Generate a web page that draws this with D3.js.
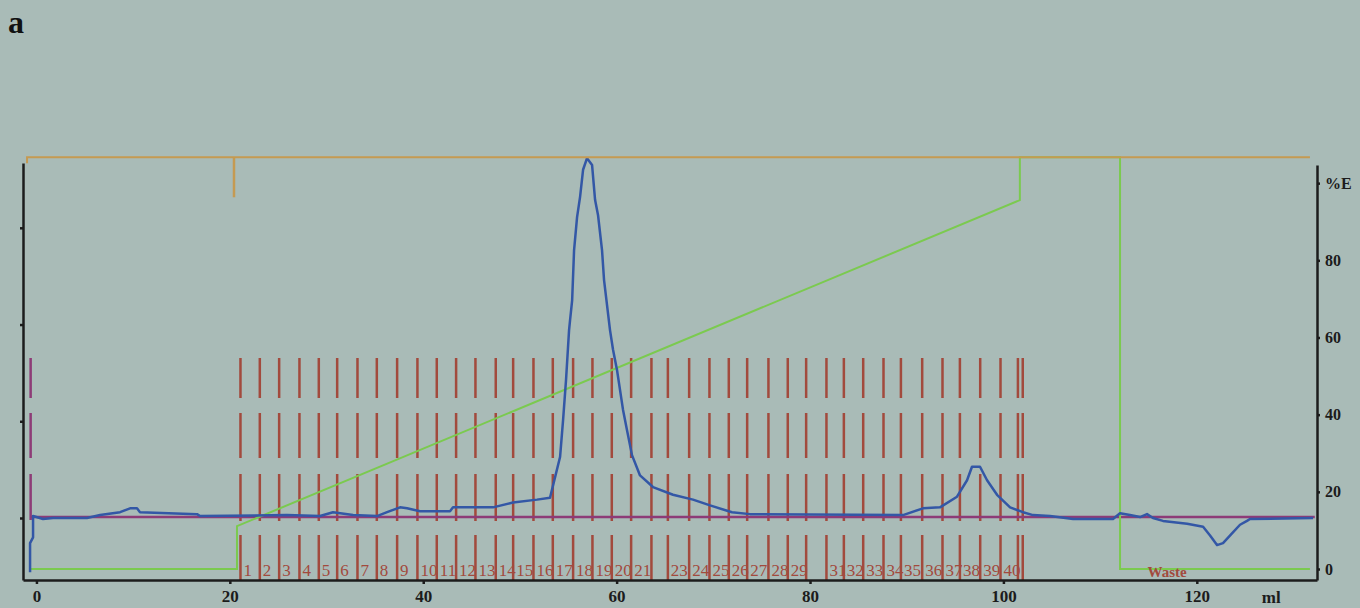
<!DOCTYPE html>
<html>
<head>
<meta charset="utf-8">
<script src="https://cdn.jsdelivr.net/npm/d3@7"></script>
<style>
  body { margin: 0; background: #a9bbb7; }
  svg { display: block; }
  .axis path, .axis line { stroke: #1c1c1c; stroke-width: 2.5; }
  .axis text { fill: #1c1c1c; font-family: "Liberation Serif", serif; font-weight: bold; }
</style>
</head>
<body>
<svg id="chrom" width="1360" height="608"></svg>
<script>
//Elution volume (ml) and UV absorbance
var uvMl = [-0.66, -0.66, -0.35, -0.35, 0.68, 1.72, 5.23, 6.58, 8.65, 9.68, 10.4, 10.71, 16.61, 16.92,
  25.91, 29.33, 30.67, 32.74, 35.22, 36.26, 37.6, 38.33, 39.67, 42.77, 43.08, 47.22, 49.29, 51.77,
  53.11, 53.63, 54.15, 54.46, 54.77, 55.08, 55.19, 55.4, 55.6, 55.91, 56.22, 56.53, 56.94, 57.46,
  57.77, 58.08, 58.49, 58.7, 59.32, 59.63, 60.04, 60.66, 61.07, 61.59, 62.42, 63.76, 65.83, 67.9,
  69.66, 71.93, 73.79, 89.62, 91.68, 93.44, 95.2, 96.24, 96.75, 97.58, 98.31, 99.34, 100.69, 102.03,
  103.06, 104.82, 107.2, 111.33, 112.06, 113.09, 114.13, 114.85, 115.47, 116.5, 119.0, 120.65,
  121.37, 122.09, 122.71, 123.64, 124.47, 125.19, 125.5, 132.02];
var uvValues = [-56, -26, -20, 2, -1, 0, 0, 3, 6, 10, 10, 6, 4, 2,
  3, 2, 6, 3, 2, 6, 11, 10, 7, 7, 11, 11, 16, 19,
  21, 42, 63, 101, 143, 194, 205, 225, 277, 311, 332, 360, 372, 365,
  329, 313, 277, 246, 194, 174, 153, 112, 91, 65, 44, 32, 24, 19,
  13, 6, 4, 3, 10, 11, 22, 39, 53, 53, 39, 24, 11, 6,
  3, 2, -1, -1, 5, 3, 1, 4, 0, -3, -6, -9,
  -18, -28, -26, -16, -7, -3, -1, 0];

//Gradient (%B) program
var gradMl = [-0.66, 20.74, 20.74, 101.7, 101.7, 112.06, 112.06, 131.7];
var gradValues = [0, 0, 11.1, 95.6, 106.7, 106.7, 0, 0];

//Fraction boundaries (ml) and the labels printed in each fraction
var fractionEdges = [21.1, 23.1, 25.1, 27.2, 29.2, 31.1, 33.2, 35.2, 37.3, 39.4, 41.4, 43.4, 45.4,
  47.5, 49.3, 51.4, 53.4, 55.5, 57.5, 59.5, 61.5, 63.6, 65.3, 67.5, 69.6, 71.6, 73.5, 75.7, 77.7,
  79.6, 81.7, 83.5, 85.5, 87.6, 89.4, 91.6, 93.7, 95.5, 97.6, 99.7, 101.5, 102.0];
var fractionLabels = ["1", "2", "3", "4", "5", "6", "7", "8", "9", "10", "11", "12", "13", "14",
  "15", "16", "17", "18", "19", "20", "21", "", "23", "24", "25", "26", "27", "28", "29", "",
  "31", "32", "33", "34", "35", "36", "37", "38", "39", "40"];

var injectionMl = [20.43];
var baselineValue = 1;
var xTicks = [0, 20, 40, 60, 80, 100, 120];
var uvTicks = [0, 100, 200, 300];
var gradTicks = [0, 20, 40, 60, 80, 100];

var svg = d3.select("svg#chrom");

//Scales
var x = d3.scaleLinear().domain([-1.39, 132.43]).range([23, 1317]);
var yUV = d3.scaleLinear().domain([-64.1, 367]).range([580, 163]);
var yB = d3.scaleLinear().domain([-2.85, 104.7]).range([580, 165]);

var fracColor = "#a24a3d",
    uvColor = "#3357a6",
    gradColor = "#7bca4f",
    baseColor = "#8d3b77",
    topColor = "#c59a52";

//Fraction marks (dashed vertical lines)
var dashes = "40,15,45,16,47,14,45";
svg.append("g")
  .selectAll("line")
  .data(fractionEdges)
  .enter().append("line")
    .attr("x1", function (d) { return x(d); })
    .attr("x2", function (d) { return x(d); })
    .attr("y1", 358)
    .attr("y2", 580)
    .attr("stroke", fracColor)
    .attr("stroke-width", 2.5)
    .attr("stroke-dasharray", dashes);

//Fraction numbers
svg.append("g")
  .selectAll("text")
  .data(fractionLabels)
  .enter().append("text")
    .attr("x", function (d, i) { return x(fractionEdges[i]) + 3; })
    .attr("y", 576)
    .attr("fill", fracColor)
    .style("font-family", "Liberation Serif, serif")
    .style("font-size", "17px")
    .text(function (d) { return d; });

//Baseline marker and its vertical dashed start mark
svg.append("line")
    .attr("x1", x(-0.6)).attr("x2", x(-0.6))
    .attr("y1", 358).attr("y2", 520)
    .attr("stroke", baseColor)
    .attr("stroke-width", 2.5)
    .attr("stroke-dasharray", dashes);
svg.append("line")
    .attr("x1", x(-0.66)).attr("x2", x(132.2))
    .attr("y1", yUV(baselineValue)).attr("y2", yUV(baselineValue))
    .attr("stroke", baseColor)
    .attr("stroke-width", 2.5);

//Gradient line
var gradLine = d3.line()
  .x(function (d, i) { return x(gradMl[i]); })
  .y(function (d) { return yB(d); });
svg.append("path")
    .datum(gradValues)
    .attr("d", gradLine)
    .attr("fill", "none")
    .attr("stroke", gradColor)
    .attr("stroke-width", 2);

//UV trace
var uvLine = d3.line()
  .x(function (d, i) { return x(uvMl[i]); })
  .y(function (d) { return yUV(d); });
svg.append("path")
    .datum(uvValues)
    .attr("d", uvLine)
    .attr("fill", "none")
    .attr("stroke", uvColor)
    .attr("stroke-width", 2.5)
    .attr("stroke-linejoin", "round");

//Top frame line with the injection mark
svg.append("path")
    .attr("d", "M" + x(-0.97) + "," + (yB(106.7) + 6) + "V" + yB(106.7) + "H" + x(131.7))
    .attr("fill", "none")
    .attr("stroke", topColor)
    .attr("stroke-width", 2);
svg.append("g")
  .selectAll("line")
  .data(injectionMl)
  .enter().append("line")
    .attr("x1", function (d) { return x(d); })
    .attr("x2", function (d) { return x(d); })
    .attr("y1", yB(106.7))
    .attr("y2", yB(106.7) + 40)
    .attr("stroke", topColor)
    .attr("stroke-width", 2.5);

//Axes
svg.append("g")
    .attr("class", "axis")
    .attr("transform", "translate(0,580)")
    .call(d3.axisBottom(x).tickValues(xTicks).tickSize(4).tickSizeOuter(0).tickPadding(6))
    .selectAll("text").style("font-size", "17px");

svg.append("g")
    .attr("class", "axis")
    .attr("transform", "translate(23,0)")
    .call(d3.axisLeft(yUV).tickValues(uvTicks).tickFormat("").tickSize(3).tickSizeOuter(0));

svg.append("g")
    .attr("class", "axis")
    .attr("transform", "translate(1317,0)")
    .call(d3.axisRight(yB).tickValues(gradTicks).tickSize(3).tickSizeOuter(0).tickPadding(5)
      .tickFormat(function (d) { return d == 100 ? "%E" : d; }))
    .selectAll("text").style("font-size", "16px");

//Volume unit
svg.append("text")
    .attr("x", x(127.7))
    .attr("y", 603)
    .attr("text-anchor", "middle")
    .style("font-family", "Liberation Serif, serif")
    .style("font-weight", "bold")
    .style("font-size", "17px")
    .attr("fill", "#1c1c1c")
    .text("ml");

//Waste marker text
svg.append("text")
    .attr("x", x(114.9))
    .attr("y", 577)
    .attr("fill", fracColor)
    .style("font-family", "Liberation Serif, serif")
    .style("font-weight", "bold")
    .style("font-size", "15px")
    .text("Waste");

//Panel letter
svg.append("text")
    .attr("x", 8)
    .attr("y", 33)
    .style("font-family", "Liberation Serif, serif")
    .style("font-weight", "bold")
    .style("font-size", "32px")
    .attr("fill", "#111")
    .text("a");
</script>
</body>
</html>
